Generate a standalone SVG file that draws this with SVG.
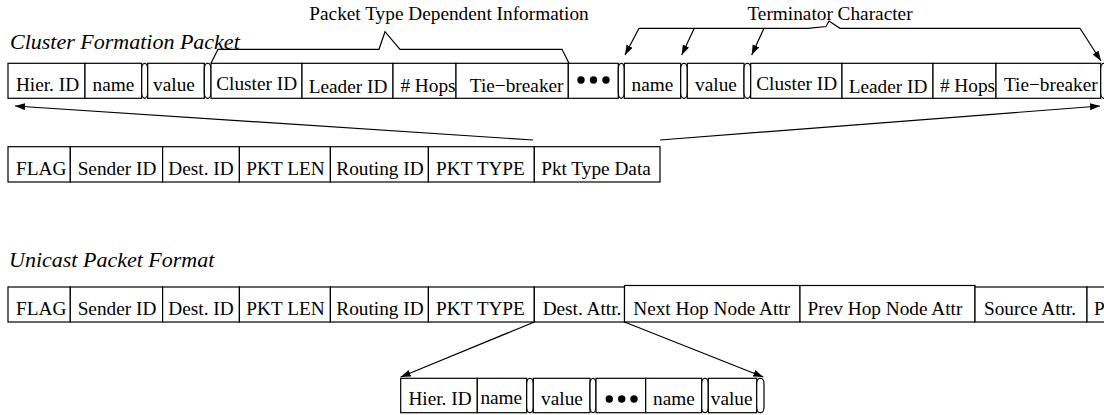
<svg xmlns="http://www.w3.org/2000/svg" width="1104" height="415" viewBox="0 0 1104 415">
<defs>
<style>
.c{fill:#fff;stroke:#000;stroke-width:1.2}
.p{fill:#fff;stroke:#000;stroke-width:1.2}
.t{font-family:"Liberation Serif",serif;font-size:19.3px;fill:#000;text-anchor:middle}
.ti{font-family:"Liberation Serif",serif;font-size:22px;font-style:italic;fill:#000}
.l{fill:none;stroke:#000;stroke-width:1.2}
.d{fill:#000}
</style>
<marker id="ah" markerUnits="userSpaceOnUse" markerWidth="11" markerHeight="8" refX="10" refY="3.5" orient="auto">
<path d="M0,0 L10,3.5 L0,7 z" fill="#000"/>
</marker>
</defs>
<rect width="1104" height="415" fill="#fff"/>

<text class="ti" x="10" y="48.5">Cluster Formation Packet</text>
<text class="ti" x="9" y="267">Unicast Packet Format</text>
<text class="t" x="449" y="19.5">Packet Type Dependent Information</text>
<text class="t" x="830" y="20">Terminator Character</text>

<g id="cluster-row">
<rect class="c" x="8" y="63.3" width="77" height="35"/><text class="t" x="47.5" y="90.7">Hier. ID</text>
<rect class="c" x="85" y="63.3" width="56.7" height="35"/><text class="t" x="113.5" y="90.7">name</text>
<rect class="p" x="141.7" y="63.3" width="6" height="35" rx="3" ry="6"/>
<rect class="c" x="147.7" y="63.3" width="56.6" height="35"/><text class="t" x="174" y="90.7">value</text>
<rect class="p" x="204.3" y="63.3" width="6.7" height="35" rx="3" ry="6"/>
<rect class="c" x="211" y="63.3" width="91" height="35"/><text class="t" x="256.7" y="89.5">Cluster ID</text>
<rect class="c" x="302" y="63.3" width="91" height="35"/><text class="t" x="348" y="93.3">Leader ID</text>
<rect class="c" x="393" y="63.3" width="63" height="35"/><text class="t" x="428" y="91.7">#&#160;Hops</text>
<rect class="c" x="456" y="63.3" width="112.3" height="35"/><text class="t" x="516.7" y="91.7">Tie−breaker</text>
<rect class="c" x="568.3" y="63.3" width="50" height="35"/>
<circle class="d" cx="581" cy="80" r="3.7"/><circle class="d" cx="593.5" cy="80" r="3.7"/><circle class="d" cx="606" cy="80" r="3.7"/>
<rect class="p" x="618.3" y="63.3" width="6" height="35" rx="3" ry="6"/>
<rect class="c" x="624.3" y="63.3" width="56.4" height="35"/><text class="t" x="652.5" y="90.7">name</text>
<rect class="p" x="680.7" y="63.3" width="6.6" height="35" rx="3" ry="6"/>
<rect class="c" x="687.3" y="63.3" width="56.7" height="35"/><text class="t" x="716" y="90.7">value</text>
<rect class="p" x="744" y="63.3" width="6.7" height="35" rx="3" ry="6"/>
<rect class="c" x="750.7" y="63.3" width="91.3" height="35"/><text class="t" x="796.7" y="89.5">Cluster ID</text>
<rect class="c" x="842" y="63.3" width="91" height="35"/><text class="t" x="888" y="93.3">Leader ID</text>
<rect class="c" x="933" y="63.3" width="63" height="35"/><text class="t" x="967.5" y="91.7">#&#160;Hops</text>
<rect class="c" x="996" y="63.3" width="104.7" height="35"/><text class="t" x="1050.8" y="90.5">Tie−breaker</text>
<rect class="p" x="1100.7" y="63.3" width="6.5" height="35" rx="3" ry="6"/>
</g>

<g id="generic-row">
<rect class="c" x="8" y="146.7" width="62.3" height="35.3"/><text class="t" x="41.2" y="175">FLAG</text>
<rect class="c" x="70.3" y="146.7" width="92.3" height="35.3"/><text class="t" x="117" y="175">Sender ID</text>
<rect class="c" x="162.6" y="146.7" width="76.8" height="35.3"/><text class="t" x="201" y="175">Dest. ID</text>
<rect class="c" x="239.4" y="146.7" width="91" height="35.3"/><text class="t" x="285.5" y="175">PKT LEN</text>
<rect class="c" x="330.4" y="146.7" width="98" height="35.3"/><text class="t" x="380" y="175">Routing ID</text>
<rect class="c" x="428.4" y="146.7" width="105.9" height="35.3"/><text class="t" x="480.5" y="175">PKT TYPE</text>
<rect class="c" x="534.3" y="146.7" width="125.7" height="35.3"/><text class="t" x="596" y="175">Pkt Type Data</text>
</g>

<g id="unicast-row">
<rect class="c" x="8" y="287" width="62.3" height="35"/><text class="t" x="41.2" y="315">FLAG</text>
<rect class="c" x="70.3" y="287" width="92.3" height="35"/><text class="t" x="117" y="315">Sender ID</text>
<rect class="c" x="162.6" y="287" width="76.8" height="35"/><text class="t" x="201" y="315">Dest. ID</text>
<rect class="c" x="239.4" y="287" width="91" height="35"/><text class="t" x="285.5" y="315">PKT LEN</text>
<rect class="c" x="330.4" y="287" width="98" height="35"/><text class="t" x="380" y="315">Routing ID</text>
<rect class="c" x="428.4" y="287" width="105.9" height="35"/><text class="t" x="480.5" y="315">PKT TYPE</text>
<rect class="c" x="534.3" y="287" width="90.2" height="35"/><text class="t" x="582" y="315">Dest. Attr.</text>
<rect class="c" x="624.5" y="285.5" width="175.5" height="36.5"/><text class="t" x="711.7" y="315">Next Hop Node Attr</text>
<rect class="c" x="800" y="285.5" width="175" height="36.5"/><text class="t" x="885" y="315">Prev Hop Node Attr</text>
<rect class="c" x="975" y="287" width="112" height="35"/><text class="t" x="1030" y="315">Source Attr.</text>
<rect class="c" x="1087" y="287" width="30" height="35"/><text class="t" x="1094" y="315" style="text-anchor:start">P</text>
</g>

<g id="attr-row">
<rect class="c" x="400.7" y="378.3" width="76.6" height="34.4"/><text class="t" x="440" y="405">Hier. ID</text>
<rect class="c" x="477.3" y="378.3" width="49.4" height="34.4"/><text class="t" x="501.3" y="403.5">name</text>
<rect class="p" x="526.7" y="378.3" width="6.6" height="34.4" rx="3" ry="6"/>
<rect class="c" x="533.3" y="378.3" width="56.7" height="34.4"/><text class="t" x="562" y="405">value</text>
<rect class="p" x="590" y="378.3" width="6" height="34.4" rx="3" ry="6"/>
<rect class="c" x="596" y="378.3" width="49.7" height="34.4"/>
<circle class="d" cx="609.3" cy="399" r="3.7"/><circle class="d" cx="621.7" cy="399" r="3.7"/><circle class="d" cx="634" cy="399" r="3.7"/>
<rect class="c" x="645.7" y="378.3" width="56" height="34.4"/><text class="t" x="674" y="405">name</text>
<rect class="p" x="701.7" y="378.3" width="6.6" height="34.4" rx="3" ry="6"/>
<rect class="c" x="708.3" y="378.3" width="48.4" height="34.4"/><text class="t" x="731.7" y="405">value</text>
<rect class="p" x="756.7" y="378.3" width="7.3" height="34.4" rx="3" ry="6"/>
</g>

<g id="connectors">
<polyline class="l" points="211,63.3 218,49.3 379,49.3 385,31.7 400,49.3 562,49.3 569,63.3"/>
<polyline class="l" points="639,28.3 808,28.3 826,26.5 829,21 840,28.3 1080,28.3"/>
<line class="l" x1="1080" y1="28.3" x2="1101" y2="61" marker-end="url(#ah)"/>
<line class="l" x1="639" y1="28.3" x2="625" y2="55" marker-end="url(#ah)"/>
<line class="l" x1="694.3" y1="28.3" x2="681.7" y2="55" marker-end="url(#ah)"/>
<line class="l" x1="764" y1="28.3" x2="751.7" y2="55" marker-end="url(#ah)"/>
<line class="l" x1="533" y1="140" x2="15" y2="106" marker-end="url(#ah)"/>
<line class="l" x1="660" y1="140" x2="1100" y2="106" marker-end="url(#ah)"/>
<line class="l" x1="534.3" y1="322" x2="400.7" y2="377" marker-end="url(#ah)"/>
<line class="l" x1="624.5" y1="322" x2="763.3" y2="377" marker-end="url(#ah)"/>
</g>
</svg>
